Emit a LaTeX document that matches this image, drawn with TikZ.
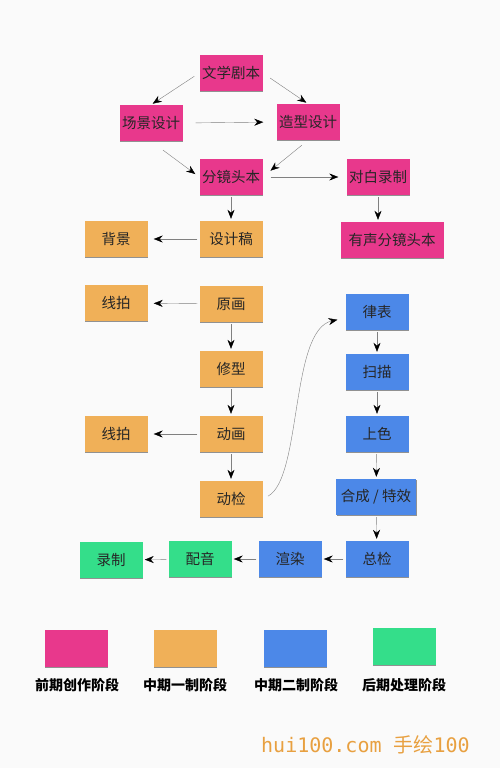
\documentclass[tikz,border=0pt]{standalone}
\usepackage{fontspec}
\newfontfamily\cjk{Noto Sans CJK SC}
\newfontfamily\mono{DejaVu Sans Mono}
\usepackage{tikz}
\usetikzlibrary{positioning}
\usetikzlibrary{arrows.meta}
\usetikzlibrary{shadows}
\definecolor{preprod}{RGB}{232,56,140}
\definecolor{midone}{RGB}{240,176,88}
\definecolor{midtwo}{RGB}{76,136,232}
\definecolor{postprod}{RGB}{52,222,138}
\definecolor{paper}{RGB}{250,250,250}
\definecolor{mark}{RGB}{232,160,64}
\tikzset {
  % stage boxes
  box/.style = {minimum width=63pt, minimum height=36pt, inner sep=0pt,
    font=\cjk\fontsize{14.5}{16}\selectfont, text=black!85,
    drop shadow={shadow xshift=0.8pt, shadow yshift=-1.4pt, opacity=0.6, fill=black!70}},
  pre/.style={box, fill=preprod},
  one/.style={box, fill=midone},
  two/.style={box, fill=midtwo},
  post/.style={box, fill=postprod},
  % legend captions
  caption/.style={font=\cjk\bfseries\fontsize{14}{16}\selectfont, text=black},
  % connectors
  flow/.style={draw=black!50, thin, shorten <=2pt, shorten >=2pt,
    -{Stealth[black, length=9pt, width=7pt]}},
}

\begin{document}
\begin{tikzpicture}[x=1pt, y=-1pt]
  \fill[paper] (0,0) rectangle (500,768);

  % pre-production
  \node[pre] (wx) at (231,73) {文学剧本};
  \node[pre] (cj) at (151,123) {场景设计};
  \node[pre] (zx) at (308,122) {造型设计};
  \node[pre] (fj) at (231,177) {分镜头本};
  \node[pre] (db) at (378,177) {对白录制};
  \node[pre, minimum width=103pt] (ys) at (392,240) {有声分镜头本};

  % first middle stage
  \node[one] (sjg) at (231,239) {设计稿};
  \node[one] (bj) at (116,239) {背景};
  \node[one] (yh) at (231,304) {原画};
  \node[one] (xp1) at (116,303) {线拍};
  \node[one] (xx) at (231,369) {修型};
  \node[one] (dh) at (231,434) {动画};
  \node[one] (xp2) at (116,434) {线拍};
  \node[one] (dj) at (231,499) {动检};

  % second middle stage
  \node[two] (lb) at (377,312) {律表};
  \node[two] (sm) at (377,372) {扫描};
  \node[two] (ss) at (377,434) {上色};
  \node[two, minimum width=80pt] (hc) at (376,497) {合成 / 特效};
  \node[two] (zj) at (377,559) {总检};
  \node[two] (xr) at (290,559) {渲染};

  % post-production
  \node[post] (py) at (200,559) {配音};
  \node[post] (lz) at (111,560) {录制};

  \draw[flow, shorten <=6pt] (wx.west) -- (cj.north);
  \draw[flow, shorten <=9pt] (wx.east) -- (zx.north);
  \draw[flow, shorten <=13pt, shorten >=13pt] (cj.east) -- (zx.west);
  \draw[flow, shorten <=15pt, shorten >=5pt] (cj.south) -- (fj.west);
  \draw[flow, shorten <=8pt, shorten >=10pt] (zx.south) -- (fj.east);
  \draw[flow, shorten <=8pt, shorten >=8pt] (fj.east) -- (db.west);
  \draw[flow] (db.south) -- (db.south |- ys.north);
  \draw[flow] (fj) -- (sjg);
  \draw[flow, shorten >=6pt] (sjg) -- (bj);
  \draw[flow, shorten >=6pt] (yh) -- (xp1);
  \draw[flow] (yh) -- (xx);
  \draw[flow] (xx) -- (dh);
  \draw[flow, shorten >=6pt] (dh) -- (xp2);
  \draw[flow] (dh) -- (dj);
  \draw[flow, shorten <=6pt, shorten >=8pt] (dj.east) .. controls (302,478) and (290,330) .. ([yshift=-6pt]lb.west);
  \draw[flow] (lb) -- (sm);
  \draw[flow] (sm) -- (ss);
  \draw[flow] (ss) -- (hc);
  \draw[flow] (hc) -- (zj);
  \draw[flow] (zj) -- (xr);
  \draw[flow] (xr) -- (py);
  \draw[flow] (py) -- (lz);

  % legend
  \node[pre, minimum height=37pt] (lgpre) at (76,648) {};
  \node[one, minimum height=37pt] (lgone) at (185,648) {};
  \node[two, minimum height=37pt] (lgtwo) at (295,648) {};
  \node[post, minimum height=37pt] (lgpost) at (404,646) {};
  \node[caption] (cpre) at (77,685) {前期创作阶段};
  \node[caption] (cone) at (185,685) {中期一制阶段};
  \node[caption] (ctwo) at (296,685) {中期二制阶段};
  \node[caption] (cpost) at (404,685) {后期处理阶段};

  \node[anchor=west, inner sep=0pt, text=mark, font=\fontsize{20}{22}\selectfont] (site) at (261,745) {\mono hui100.com \cjk 手绘\mono 100};
\end{tikzpicture}
\end{document}
